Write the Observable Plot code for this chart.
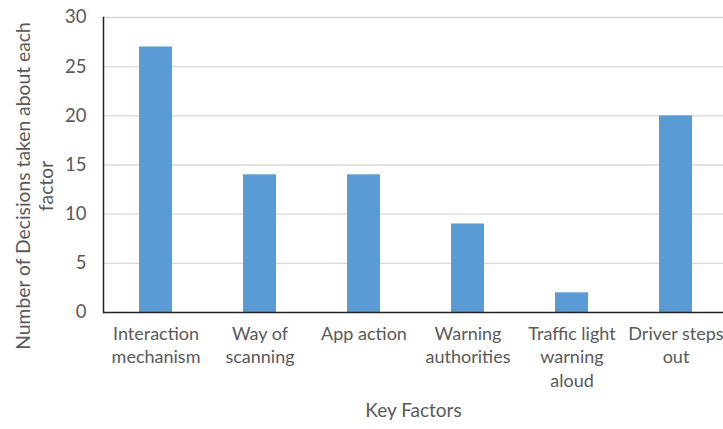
<!DOCTYPE html>
<html>
<head>
<meta charset="utf-8">
<script src="https://cdn.jsdelivr.net/npm/d3@7"></script>
<script src="https://cdn.jsdelivr.net/npm/@observablehq/plot@0.6"></script>
<style>
  html, body { margin: 0; padding: 0; background: #fff; overflow: hidden; }
  #chart svg { display: block; }
</style>
</head>
<body>
<div id="chart"></div>
<script>
const categories = ["Interaction mechanism", "Way of scanning", "App action", "Warning authorities", "Traffic light warning aloud", "Driver steps out"];
const tickLabels = ["Interaction\nmechanism", "Way of\nscanning", "App action", "Warning\nauthorities", "Traffic light\nwarning\naloud", "Driver steps\nout"];
const values = [27, 14, 14, 9, 2, 20];
const yTicks = [0, 5, 10, 15, 20, 25, 30];
const yTitle = "Number of Decisions taken about each\nfactor";
const xTitle = "Key Factors";

const data = categories.map((c, i) => ({category: c, value: values[i]}));
const labelOf = new Map(categories.map((c, i) => [c, tickLabels[i]]));
const font = "Lato, 'Open Sans', sans-serif";
const textColor = "#595959";

const chart = Plot.plot({
  width: 723,
  height: 429,
  marginTop: 17,
  marginBottom: 117,
  marginLeft: 103,
  marginRight: 0,
  style: {fontFamily: font, background: "#fff"},
  x: {domain: categories, range: [103.5, 727.5], paddingInner: 0.685, paddingOuter: 0.3425, label: null},
  y: {domain: [0, 30], label: null},
  marks: [
    Plot.gridY(yTicks.filter(t => t > 0), {stroke: "#d9d9d9", strokeOpacity: 1, strokeWidth: 1.3}),
    Plot.barY(data, {x: "category", y: "value", fill: "#5b9bd5"}),
    Plot.ruleY([0], {stroke: "#222", strokeWidth: 1.5}),
    Plot.frame({anchor: "left", stroke: "#222", strokeWidth: 1.5}),
    Plot.axisY({ticks: yTicks, tickSize: 0, tickPadding: 17, fontSize: 18.5, fill: textColor, label: null}),
    Plot.axisX({tickSize: 0, tickPadding: 10, fontSize: 18, fill: textColor, lineHeight: 1.33, tickFormat: d => labelOf.get(d), textOverflow: null, lineWidth: 100, label: null}),
    Plot.text([yTitle], {frameAnchor: "left", dx: -69.5, dy: 21, rotate: -90, fontSize: 19.3, fill: textColor, lineHeight: 1.2, textAnchor: "middle"}),
    Plot.text([xTitle], {frameAnchor: "bottom", dy: 104, fontSize: 19, fill: textColor})
  ]
});
document.getElementById("chart").appendChild(chart);
</script>
</body>
</html>
